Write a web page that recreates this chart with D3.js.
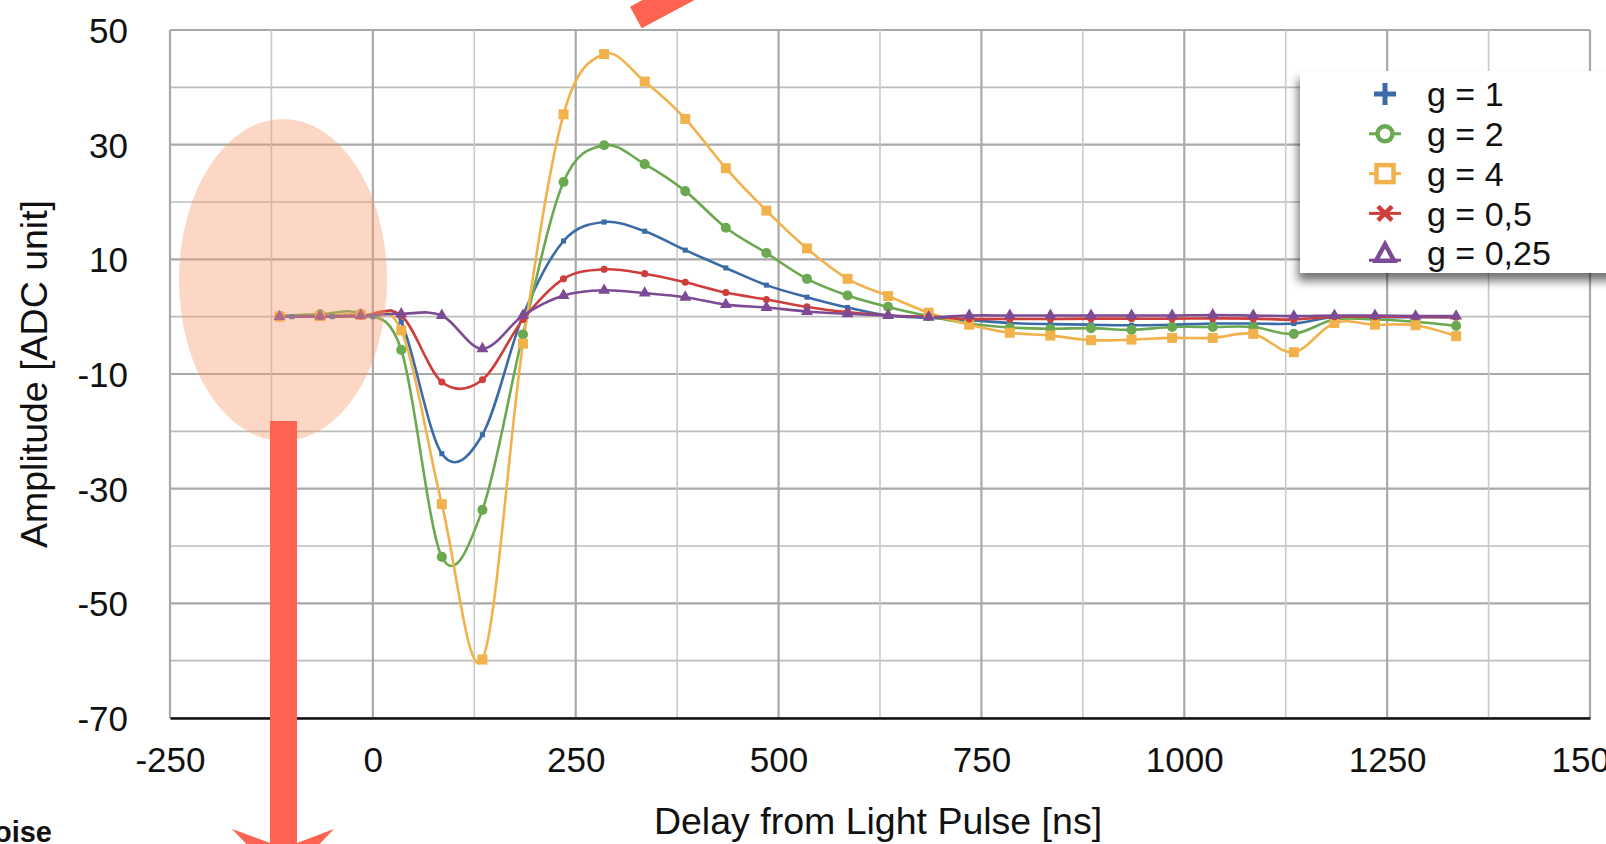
<!DOCTYPE html>
<html>
<head>
<meta charset="utf-8">
<script src="https://cdn.jsdelivr.net/npm/d3@7"></script>
<style>
  html, body { margin: 0; padding: 0; background: #fff; overflow: hidden; }
  svg { display: block; font-family: "Liberation Sans", Arial, Helvetica, sans-serif; }
</style>
</head>
<body>
<svg id="chart" width="1606" height="844"></svg>
<script>
// Delay positions [ns] of the samples
const delays = [-115, -65, -15, 35, 85, 135, 185, 235, 285, 335, 385, 435, 485, 535, 585,
                635, 685, 735, 785, 835, 885, 935, 985, 1035, 1085, 1135, 1185, 1235, 1285, 1335];
const delaysG1 = [-100, -50, 0, 35, 85, 135, 185, 235, 285, 335, 385, 435, 485, 535, 585,
                  635, 685, 735, 785, 835, 885, 935, 985, 1035, 1085, 1135, 1185, 1235, 1285, 1335];

// Amplitudes [ADC unit] per gain setting
const ampG1   = [0, 0, 0, -0.9, -23.9, -20.6, 0.2, 13.2, 16.5, 14.9, 11.6, 8.5, 5.5, 3.4, 1.6,
                 0.2, -0.2, -0.6, -1.1, -1.3, -1.4, -1.5, -1.4, -1.2, -1.2, -1.2, -0.05, -0.1, -0.1, -0.1];
const ampG2   = [0.1, 0.4, 0.5, -5.8, -41.9, -33.7, -3.1, 23.5, 29.9, 26.6, 21.9, 15.5, 11.1, 6.6, 3.7,
                 1.7, 0.1, -1.2, -1.9, -2.1, -2.0, -2.3, -1.8, -1.8, -1.8, -3.0, -0.5, -0.5, -0.9, -1.6];
const ampG4   = [0, 0.1, 0.3, -2.4, -32.7, -59.8, -4.7, 35.3, 45.8, 41.0, 34.5, 25.9, 18.5, 11.9, 6.6,
                 3.6, 0.7, -1.4, -2.8, -3.3, -4.1, -4.0, -3.7, -3.7, -3.0, -6.2, -1.1, -1.4, -1.5, -3.4];
const ampG05  = [0, 0, 0.1, 0.2, -11.4, -11.0, -0.5, 6.6, 8.25, 7.5, 6.0, 4.2, 3.0, 1.7, 0.8,
                 0.2, 0, -0.4, -0.4, -0.4, -0.35, -0.35, -0.35, -0.3, -0.35, -0.5, 0, 0, 0, -0.1];
const ampG025 = [0, 0.1, 0.2, 0.5, 0.2, -5.6, 0.2, 3.7, 4.6, 4.1, 3.4, 2.1, 1.6, 0.9, 0.5,
                 0.2, -0.1, 0.2, 0.2, 0.2, 0.2, 0.2, 0.2, 0.3, 0.2, 0.1, 0.2, 0.2, 0.1, 0.1];

const seriesNames = ["g = 1", "g = 2", "g = 4", "g = 0,5", "g = 0,25"];

// Axis ticks
const xTicks = [-250, 0, 250, 500, 750, 1000, 1250, 1500];
const yTicks = [-70, -50, -30, -10, 10, 30, 50];

const colors = ["#3b6ba6", "#6aa851", "#f1b14b", "#cf3e3b", "#7d4b95"];

const series = [
  { name: seriesNames[0], x: delaysG1, y: ampG1,   color: colors[0], sym: d3.symbolSquare,   size: 26 },
  { name: seriesNames[1], x: delays,   y: ampG2,   color: colors[1], sym: d3.symbolCircle,   size: 80 },
  { name: seriesNames[2], x: delays,   y: ampG4,   color: colors[2], sym: d3.symbolSquare,   size: 100 },
  { name: seriesNames[3], x: delays,   y: ampG05,  color: colors[3], sym: d3.symbolCircle,   size: 40 },
  { name: seriesNames[4], x: delays,   y: ampG025, color: colors[4], sym: d3.symbolTriangle, size: 62 }
];

const svg = d3.select("#chart");
const plot = { left: 170, right: 1590, top: 30, bottom: 718 };

const x = d3.scaleLinear().domain([-250, 1500]).range([plot.left, plot.right]);
const y = d3.scaleLinear().domain([-70, 50]).range([plot.bottom, plot.top]);

// Plain hyphen-minus for negative tick values
const fmt = d => String(d);

// Grid
const grid = svg.append("g");
d3.range(-70, 51, 10).forEach(v => {
  const major = yTicks.includes(v);
  grid.append("line")
    .attr("x1", plot.left).attr("x2", plot.right)
    .attr("y1", y(v)).attr("y2", y(v))
    .attr("stroke", major ? "#a9a9a9" : "#bdbdbd")
    .attr("stroke-width", major ? 2.2 : 1.6);
});
d3.range(-250, 1501, 125).forEach(v => {
  const major = v % 250 === 0;
  grid.append("line")
    .attr("x1", x(v)).attr("x2", x(v))
    .attr("y1", plot.top).attr("y2", plot.bottom)
    .attr("stroke", major ? "#a9a9a9" : "#c9c9c9")
    .attr("stroke-width", major ? 2.2 : 1.6);
});

// Axes
const xAxis = svg.append("g")
  .attr("transform", `translate(0,${plot.bottom})`)
  .call(d3.axisBottom(x).tickValues(xTicks).tickSize(0).tickPadding(0).tickFormat(fmt));
xAxis.select(".domain").attr("stroke", "#111").attr("stroke-width", 2.4);
xAxis.selectAll("text")
  .attr("font-size", 35).attr("fill", "#111")
  .attr("dy", null).attr("y", 54)
  .style("font-family", "'Liberation Sans', Arial, sans-serif");

const yAxis = svg.append("g")
  .attr("transform", `translate(128,0)`)
  .call(d3.axisLeft(y).tickValues(yTicks).tickSize(0).tickPadding(0).tickFormat(fmt));
yAxis.select(".domain").remove();
yAxis.selectAll("text")
  .attr("font-size", 35).attr("fill", "#111")
  .attr("x", 0).attr("dy", "0.36em")
  .style("font-family", "'Liberation Sans', Arial, sans-serif");

// Axis titles
svg.append("text")
  .attr("x", 878).attr("y", 834)
  .attr("text-anchor", "middle")
  .attr("font-size", 37.5).attr("fill", "#111")
  .text("Delay from Light Pulse [ns]");
svg.append("text")
  .attr("transform", "translate(47,374) rotate(-90)")
  .attr("text-anchor", "middle")
  .attr("font-size", 37.5).attr("fill", "#111")
  .text("Amplitude [ADC unit]");

// Series: smoothed lines with markers
const line = d3.line()
  .x(d => x(d[0]))
  .y(d => y(d[1]))
  .curve(d3.curveCatmullRom.alpha(0));

const dataG = svg.append("g");
series.forEach(s => {
  const pts = s.x.map((v, i) => [v, s.y[i]]);
  dataG.append("path")
    .datum(pts)
    .attr("d", line)
    .attr("fill", "none")
    .attr("stroke", s.color)
    .attr("stroke-width", 2.6);
});
series.forEach(s => {
  const pts = s.x.map((v, i) => [v, s.y[i]]);
  dataG.append("g").selectAll("path")
    .data(pts)
    .join("path")
    .attr("transform", d => `translate(${x(d[0])},${y(d[1])})`)
    .attr("d", d3.symbol().type(s.sym).size(s.size))
    .attr("fill", s.color);
});

// Highlight ellipse over the pre-pulse region
svg.append("ellipse")
  .attr("cx", 283).attr("cy", 280)
  .attr("rx", 104).attr("ry", 161)
  .attr("fill", "#fb9a70")
  .attr("fill-opacity", 0.4);

// Annotation arrows
svg.append("polygon")
  .attr("points", [[270, 421], [297, 421], [297, 843], [334, 829], [283, 882], [232, 829], [270, 843]].join(" "))
  .attr("fill", "#fe6250");
svg.append("polygon")
  .attr("points", [[630, 6.7], [641.7, 28.3], [760, -35], [748, -57]].join(" "))
  .attr("fill", "#fe6250");

svg.append("text")
  .attr("x", 52).attr("y", 842)
  .attr("text-anchor", "end")
  .attr("font-size", 29).attr("font-weight", "bold").attr("fill", "#111")
  .text("Noise");

// Legend
const defs = svg.append("defs");
const f = defs.append("filter").attr("id", "shadow")
  .attr("x", "-20%").attr("y", "-20%").attr("width", "140%").attr("height", "150%");
f.append("feDropShadow")
  .attr("dx", -2).attr("dy", 8).attr("stdDeviation", 5)
  .attr("flood-color", "#000").attr("flood-opacity", 0.55);

const legend = svg.append("g").attr("transform", "translate(1300,71)");
legend.append("rect")
  .attr("width", 340).attr("height", 202)
  .attr("fill", "#fff")
  .attr("filter", "url(#shadow)");

const rowY = i => 23 + i * 39.8;
const mx = 85;
series.forEach((s, i) => {
  const g = legend.append("g").attr("transform", `translate(${mx},${rowY(i)})`);
  const c = s.color;
  if (i === 0) {
    g.append("path").attr("d", "M-11,0H11M0,-11V11").attr("stroke", c).attr("stroke-width", 5);
  } else if (i === 1) {
    g.append("line").attr("x1", -16).attr("x2", 16).attr("stroke", c).attr("stroke-width", 3);
    g.append("circle").attr("r", 7.5).attr("fill", "#fff").attr("stroke", c).attr("stroke-width", 4.5);
  } else if (i === 2) {
    g.append("line").attr("x1", -16).attr("x2", 16).attr("stroke", c).attr("stroke-width", 3);
    g.append("rect").attr("x", -8.5).attr("y", -8.5).attr("width", 17).attr("height", 17)
      .attr("fill", "#fff").attr("stroke", c).attr("stroke-width", 4.5);
  } else if (i === 3) {
    g.append("line").attr("x1", -16).attr("x2", 16).attr("stroke", c).attr("stroke-width", 3);
    g.append("path").attr("d", "M-7,-7L7,7M-7,7L7,-7").attr("stroke", c).attr("stroke-width", 4.5);
  } else {
    g.append("line").attr("x1", -16).attr("x2", 16).attr("y1", 7).attr("y2", 7).attr("stroke", c).attr("stroke-width", 3);
    g.append("path").attr("d", "M0,-9L9,7.5L-9,7.5Z")
      .attr("fill", "#fff").attr("stroke", c).attr("stroke-width", 4.5).attr("stroke-linejoin", "miter");
  }
  legend.append("text")
    .attr("x", 127).attr("y", rowY(i))
    .attr("dy", "0.36em")
    .attr("font-size", 34).attr("fill", "#111")
    .text(s.name);
});
</script>
</body>
</html>
